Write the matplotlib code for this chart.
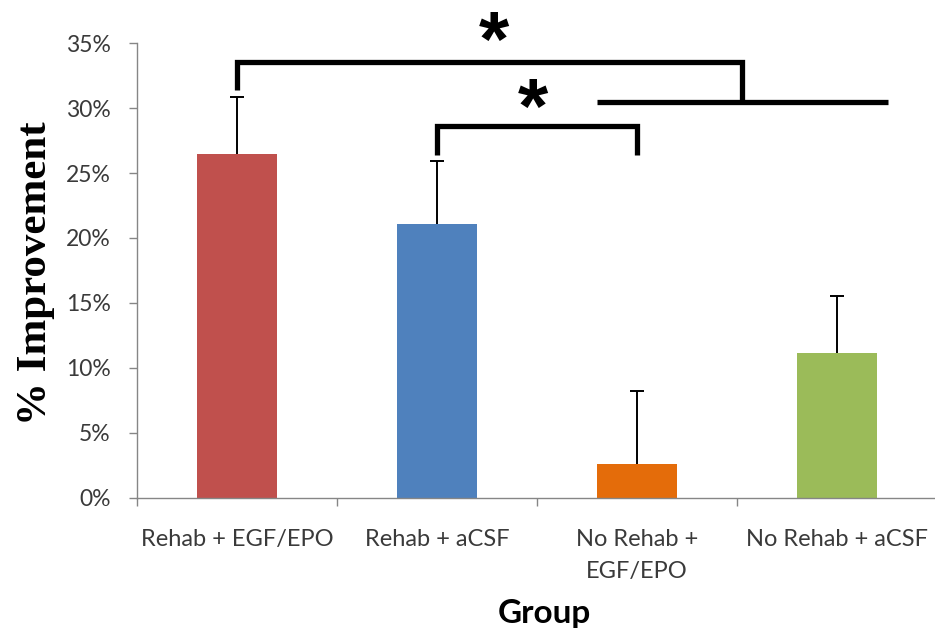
import matplotlib
matplotlib.use("Agg")
import matplotlib.pyplot as plt
import numpy as np

# ---- data ----
groups = ["Rehab + EGF/EPO", "Rehab + aCSF", "No Rehab +\nEGF/EPO", "No Rehab + aCSF"]
improvement = [26.5, 21.1, 2.6, 11.1]      # % improvement (bar height)
sem = [4.4, 4.8, 5.6, 4.4]                 # upward error bar length (%)
y_ticks = [0, 5, 10, 15, 20, 25, 30, 35]
y_tick_labels = ["0%", "5%", "10%", "15%", "20%", "25%", "30%", "35%"]
x_label = "Group"
y_label = "% Improvement"

# ---- styles ----
bar_colors = ["#C0504D", "#4F81BD", "#E46C0A", "#9BBB59"]
axis_gray = "#868686"
text_gray = "#3a3a3a"

fig = plt.figure(figsize=(9.35, 6.35), dpi=100)
W, H = 935, 635
ax = fig.add_axes([137 / W, (H - 497.5) / H, 800 / W, 454.2 / H])

x = np.arange(len(groups))
ax.bar(x, improvement, width=0.4, color=bar_colors, zorder=2)
eb = ax.errorbar(x, improvement, yerr=[np.zeros(len(sem)), sem], fmt="none",
                 ecolor="black", elinewidth=1.4, capsize=5, capthick=1.4, zorder=3)
eb[1][0].set_visible(False)  # hide caps at the bar tops

ax.set_xlim(-0.5, 3.5)
ax.set_ylim(0, 35)

for s in ["top", "right"]:
    ax.spines[s].set_visible(False)
for s in ["left", "bottom"]:
    ax.spines[s].set_color(axis_gray)
    ax.spines[s].set_linewidth(1.0)

ax.set_yticks(y_ticks)
ax.set_yticklabels(y_tick_labels, fontsize=16.5, fontfamily="Lato", color=text_gray)
ax.tick_params(axis="y", direction="out", length=6, width=1, color=axis_gray, pad=13)

ax.set_xticks(np.arange(-0.5, 3.6, 1.0))
ax.set_xticklabels([])
ax.tick_params(axis="x", which="major", direction="out", length=6, width=1, color=axis_gray)
ax.set_xticks(x, minor=True)
ax.set_xticklabels(groups, minor=True, fontsize=17, fontfamily="Lato", color=text_gray,
                   linespacing=1.6)
ax.tick_params(axis="x", which="minor", length=0, pad=23)

fig.text(36 / W, 1 - 273 / H, y_label, rotation=90, ha="center", va="center",
         fontsize=31, fontweight="bold", fontfamily="Liberation Serif", color="black")
fig.text(544 / W, 1 - 613 / H, x_label, ha="center", va="center",
         fontsize=24, fontweight="bold", fontfamily="Lato", color="black")

# ---- significance brackets (annotation geometry) ----
lw_br = 3.8
kw = dict(color="black", lw=lw_br, clip_on=False, solid_capstyle="butt",
          solid_joinstyle="miter", zorder=4)
# bracket 1: Rehab + EGF/EPO vs. the two No-Rehab groups
ax.plot([0, 0, 2.525, 2.525], [31.4, 33.55, 33.55, 30.47], **kw)
ax.plot([1.80, 3.255], [30.47, 30.47], **kw)
# bracket 2: Rehab + aCSF vs. No Rehab + EGF/EPO
ax.plot([1, 1, 2, 2], [26.4, 28.66, 28.66, 26.4], **kw)

ax.text(1.285, 34.8, "*", ha="center", va="center", fontsize=56, fontweight="bold",
        fontfamily="Liberation Sans", clip_on=False)
ax.text(1.48, 29.7, "*", ha="center", va="center", fontsize=56, fontweight="bold",
        fontfamily="Liberation Sans", clip_on=False)

fig.savefig("out.png", dpi=100)
